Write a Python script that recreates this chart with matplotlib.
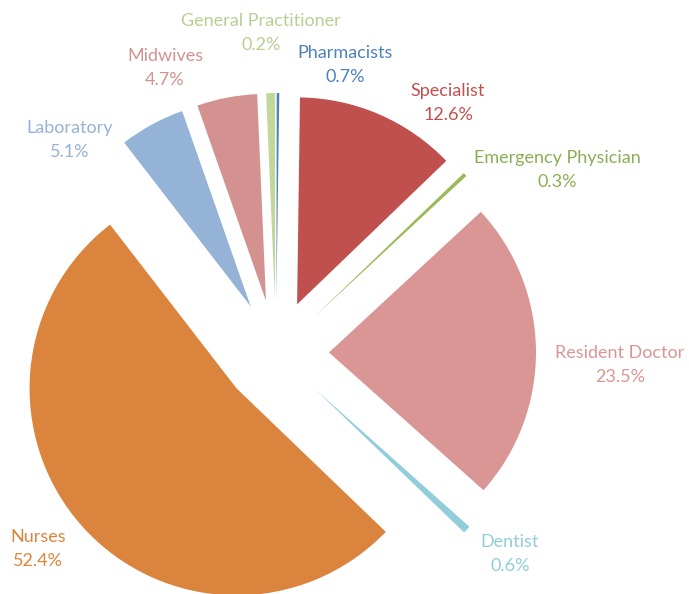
import matplotlib
matplotlib.use("Agg")
import matplotlib.pyplot as plt
import numpy as np

categories = ["Specialist", "Emergency Physician", "Resident Doctor", "Dentist",
              "Nurses", "Laboratory", "Midwives", "Pharmacists", "General Practitioner"]
shares = [12.6, 0.3, 23.5, 0.6, 52.4, 5.1, 4.7, 0.7, 0.2]
# wedge fills as they appear in the reference (the two tiny top slices swap hues)
wedge_colors = ["#C0504D", "#9BBB59", "#DA9694", "#92CDDC",
                "#DB843D", "#95B3D7", "#D39290", "#C4D79B", "#4F81BD"]
label_colors = ["#C0504D", "#8BAE55", "#DA9694", "#92CDDC",
                "#DB843D", "#95B3D7", "#D39290", "#4F81BD", "#B9CF92"]

# label block centres in pixel coordinates (x from left, y from top)
label_px = [(448, 103), (557, 170), (620, 365), (510, 554),
            (38, 549), (70, 140), (165, 68), (345, 65), (261, 33)]

W, H = 689, 594
R = 207.0          # pie radius in pixels
CX, CY = 276, 353  # pie centre in pixels

fig = plt.figure(figsize=(W / 100, H / 100), dpi=100)
ax = fig.add_axes([0, 0, 1, 1])

ax.pie(shares, colors=wedge_colors, startangle=89.2, counterclock=False,
       explode=[0.256] * len(shares), radius=1.0, center=(0, 0),
       wedgeprops=dict(linewidth=0), frame=False)
ax.set_xlim(-CX / R, (W - CX) / R)
ax.set_ylim(-(H - CY) / R, CY / R)
ax.set_aspect("auto")
ax.axis("off")

for name, v, c, (px, py) in zip(categories, shares, label_colors, label_px):
    ax.text((px - CX) / R, (CY - py) / R, f"{name}\n{v:.1f}%", color=c,
            ha="center", va="center", multialignment="center",
            fontsize=13, family="Lato", linespacing=1.6)

fig.savefig("out.png", dpi=100)
